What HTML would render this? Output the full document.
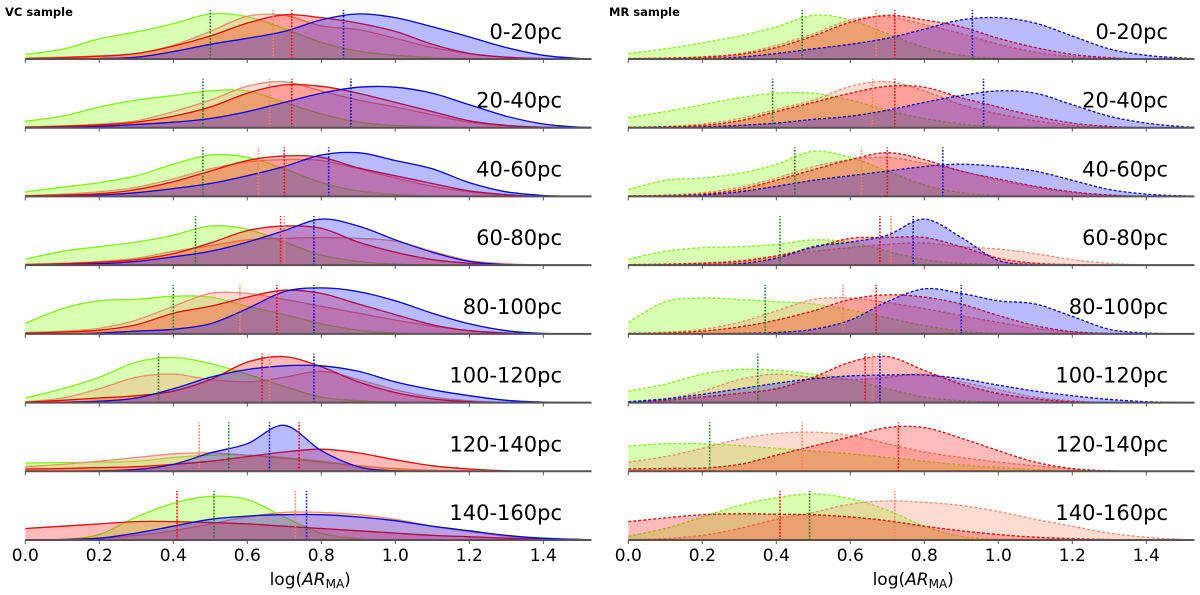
<!DOCTYPE html>
<html><head><meta charset="utf-8">
<style>
html,body{margin:0;padding:0;background:#fff;}
svg{display:block;font-family:"DejaVu Sans","Liberation Sans",sans-serif;}
</style></head>
<body>
<svg id="chart" width="1200" height="595" viewBox="0 0 1200 595">
<text x="5" y="16" font-size="11.5" font-weight="bold">VC sample</text>
<text x="609" y="16" font-size="11.5" font-weight="bold">MR sample</text>
<g id="plots"></g>
</svg>
<script>
const rowLabels = ["0-20pc","20-40pc","40-60pc","60-80pc","80-100pc","100-120pc","120-140pc","140-160pc"];
const xGrid = [0,0.1,0.2,0.3,0.4,0.5,0.6,0.7,0.8,0.9,1.0,1.1,1.2,1.3,1.4,1.5];
const tickValues = [0,0.2,0.4,0.6,0.8,1.0,1.2,1.4];
const tickLabels = ["0.0","0.2","0.4","0.6","0.8","1.0","1.2","1.4"];
const seriesNames = ["green","orange","red","blue"];

// VC sample densities (per row, per series)
const vcGreen = [
 [.10,.21,.44,.59,.77,.98,.92,.66,.36,.17,.08,.03,.01,0,0,0],
 [.14,.25,.45,.6,.7,.8,.8,.55,.3,.12,.05,.02,0,0,0,0],
 [.1,.2,.3,.45,.7,.9,.85,.6,.3,.12,.04,.01,0,0,0,0],
 [.13,.3,.4,.5,.65,.85,.78,.5,.22,.08,.02,0,0,0,0,0],
 [.23,.55,.72,.75,.82,.8,.6,.42,.22,.08,.02,0,0,0,0,0],
 [.1,.3,.55,.88,.98,.85,.62,.35,.12,.04,.01,0,0,0,0,0],
 [.18,.19,.2,.22,.3,.35,.35,.3,.22,.12,.05,.02,0,0,0,0],
 [0,.01,.12,.5,.8,.95,.88,.5,.15,.03,0,0,0,0,0,0]];
const vcOrange = [
 [.02,.04,.07,.12,.3,.6,.93,.95,.72,.64,.45,.25,.12,.04,.01,0],
 [.02,.04,.08,.15,.35,.6,.9,1.0,.8,.6,.45,.28,.12,.04,.01,0],
 [.02,.05,.1,.2,.38,.6,.75,.8,.78,.6,.4,.22,.1,.03,0,0],
 [.02,.04,.08,.15,.3,.42,.55,.58,.6,.58,.52,.3,.1,.03,0,0],
 [.03,.06,.12,.3,.6,.88,.88,.75,.6,.45,.3,.17,.07,.02,0,0],
 [.02,.1,.3,.55,.62,.5,.45,.55,.68,.5,.28,.12,.04,0,0,0],
 [.1,.15,.22,.3,.38,.4,.35,.28,.2,.12,.06,.02,0,0,0,0],
 [0,.01,.04,.1,.2,.35,.5,.6,.6,.55,.45,.3,.18,.08,.03,.01]];
const vcRed = [
 [.01,.03,.06,.12,.28,.5,.78,.96,.9,.78,.6,.32,.12,.04,.01,0],
 [.01,.03,.06,.12,.25,.45,.75,.93,.9,.75,.55,.35,.15,.05,.01,0],
 [.01,.03,.06,.15,.32,.55,.78,.88,.85,.62,.45,.28,.12,.04,0,0],
 [.01,.03,.06,.12,.25,.48,.75,.85,.8,.5,.28,.12,.04,0,0,0],
 [.02,.04,.08,.2,.45,.6,.8,.95,.88,.65,.42,.2,.07,.02,0,0],
 [.01,.05,.1,.15,.25,.5,.88,1.0,.78,.45,.22,.08,.02,0,0,0],
 [.05,.06,.08,.1,.15,.22,.32,.42,.48,.4,.25,.12,.05,.01,0,0],
 [.25,.3,.35,.4,.4,.38,.35,.3,.25,.2,.15,.1,.07,.04,.02,.01]];
const vcBlue = [
 [0,0,.01,.04,.16,.32,.45,.6,.85,.98,.9,.7,.48,.25,.08,.01],
 [0,.01,.03,.07,.12,.2,.35,.55,.75,.88,.88,.75,.5,.25,.08,.01],
 [0,.01,.03,.08,.17,.28,.45,.65,.9,.95,.78,.6,.3,.1,.02,0],
 [0,.01,.03,.08,.18,.3,.5,.75,1.0,.85,.55,.28,.08,.01,0,0],
 [0,0,.02,.06,.1,.22,.55,.92,1.0,.92,.72,.45,.22,.07,.01,0],
 [0,.01,.03,.1,.3,.55,.72,.8,.8,.68,.45,.28,.15,.05,.01,0],
 [0,0,.01,.04,.15,.4,.6,1.0,.45,.1,.01,0,0,0,0,0],
 [0,.01,.04,.15,.3,.45,.52,.55,.55,.5,.42,.3,.2,.1,.04,.01]];
const vcMedGreen = [.50,.48,.48,.46,.40,.36,.55,.51];
const vcMedOrange = [.67,.66,.63,.70,.58,.66,.47,.73];
const vcMedRed = [.72,.72,.70,.69,.68,.64,.74,.41];
const vcMedBlue = [.86,.88,.82,.78,.78,.78,.66,.76];

// MR sample densities
const mrGreen = [
 [.12,.22,.35,.5,.7,.95,.85,.55,.25,.08,.02,0,0,0,0,0],
 [.22,.35,.5,.65,.75,.75,.6,.38,.2,.08,.02,0,0,0,0,0],
 [.15,.35,.4,.5,.7,.98,.85,.55,.25,.08,.02,0,0,0,0,0],
 [.13,.3,.38,.4,.45,.55,.5,.3,.12,.04,.01,0,0,0,0,0],
 [.25,.7,.78,.75,.7,.65,.52,.35,.18,.06,.01,0,0,0,0,0],
 [.25,.4,.62,.72,.7,.62,.5,.3,.12,.04,.01,0,0,0,0,0],
 [.55,.6,.6,.56,.5,.44,.38,.3,.22,.14,.08,.04,.01,0,0,0],
 [.08,.25,.5,.75,.92,1.0,.9,.65,.3,.08,.01,0,0,0,0,0]];
const mrOrange = [
 [.01,.02,.05,.12,.3,.55,.85,.92,.75,.55,.32,.15,.05,.01,0,0],
 [.01,.03,.08,.2,.4,.6,.9,1.0,.8,.5,.3,.15,.05,0,0,0],
 [.01,.03,.08,.2,.4,.65,.8,.85,.72,.55,.35,.2,.08,.02,0,0],
 [.01,.02,.05,.1,.2,.3,.38,.45,.48,.4,.35,.25,.12,.04,0,0],
 [.01,.04,.1,.25,.5,.75,.78,.68,.55,.4,.25,.12,.04,.01,0,0],
 [.02,.08,.25,.5,.62,.55,.5,.55,.62,.45,.28,.12,.04,0,0,0],
 [.2,.32,.5,.7,.82,.85,.78,.6,.42,.3,.2,.12,.05,.01,0,0],
 [.01,.03,.1,.25,.45,.6,.78,.85,.82,.75,.62,.45,.3,.15,.06,.01]];
const mrRed = [
 [.01,.02,.04,.1,.25,.5,.8,.95,.85,.7,.45,.25,.1,.03,0,0],
 [.01,.02,.05,.15,.35,.55,.75,.9,.88,.65,.45,.25,.1,.03,0,0],
 [.01,.02,.05,.15,.35,.58,.8,.95,.8,.55,.38,.22,.1,.03,0,0],
 [.01,.02,.04,.08,.2,.38,.58,.6,.6,.4,.15,.04,.01,0,0,0],
 [.01,.02,.06,.15,.3,.5,.75,.85,.8,.65,.4,.18,.05,.01,0,0],
 [.01,.05,.12,.2,.3,.55,.88,1.0,.7,.4,.2,.08,.02,0,0,0],
 [.05,.06,.07,.15,.35,.55,.75,.95,.95,.72,.45,.2,.06,.01,0,0],
 [.4,.48,.55,.57,.56,.55,.5,.42,.3,.2,.12,.06,.03,.01,0,0]];
const mrBlue = [
 [0,0,.01,.04,.12,.22,.32,.45,.65,.85,.9,.78,.5,.22,.08,.02],
 [0,.01,.02,.05,.1,.18,.25,.38,.55,.7,.8,.75,.5,.25,.1,.02],
 [0,.01,.03,.1,.22,.35,.45,.55,.65,.7,.65,.55,.35,.15,.05,.01],
 [0,0,.01,.03,.15,.4,.5,.65,1.0,.6,.1,.01,0,0,0,0],
 [0,0,0,.01,.03,.1,.3,.7,.98,.88,.72,.65,.38,.1,.02,0],
 [.02,.08,.18,.3,.42,.52,.58,.6,.6,.52,.38,.25,.15,.07,.02,0],
 null,
 null];
const mrMedGreen = [.47,.39,.45,.41,.37,.35,.22,.49];
const mrMedOrange = [.67,.66,.63,.71,.58,.66,.47,.72];
const mrMedRed = [.72,.72,.70,.68,.67,.64,.73,.41];
const mrMedBlue = [.93,.96,.85,.77,.90,.68,null,null];

const NS = "http://www.w3.org/2000/svg";
const baselines = [59,127.7,196.4,265.1,333.9,402.6,471.3,540];
const unitH = 46;
const xMax = 1.53;
const colors = {
  green:{line:"#7cfc00",fill:"rgba(127,255,0,0.3)",med:"#1a7a1a"},
  orange:{line:"#fa8a6a",fill:"rgba(255,140,105,0.3)",med:"#fa8060"},
  red:{line:"#ff0000",fill:"rgba(255,0,0,0.27)",med:"#ff0000"},
  blue:{line:"#0000ff",fill:"rgba(0,0,255,0.27)",med:"#0000ff"}
};
const panels = [
  {key:"vc", x0:25.3, dashed:false, data:[vcGreen,vcOrange,vcRed,vcBlue], med:[vcMedGreen,vcMedOrange,vcMedRed,vcMedBlue], labelX:562},
  {key:"mr", x0:628.3, dashed:true, data:[mrGreen,mrOrange,mrRed,mrBlue], med:[mrMedGreen,mrMedOrange,mrMedRed,mrMedBlue], labelX:1168}
];
const pxPerUnit = 370;
const root = document.getElementById("plots");

function mk(tag, attrs){const e=document.createElementNS(NS,tag);for(const k in attrs)e.setAttribute(k,attrs[k]);return e;}

function splinePath(pts){
  let d = "M"+pts[0][0].toFixed(1)+","+pts[0][1].toFixed(1);
  for(let i=0;i<pts.length-1;i++){
    const p0=pts[Math.max(0,i-1)],p1=pts[i],p2=pts[i+1],p3=pts[Math.min(pts.length-1,i+2)];
    let c1y=p1[1]+(p2[1]-p0[1])/6, c2y=p2[1]-(p3[1]-p1[1])/6;
    const bl=Math.max(p1[1],p2[1]);
    c1y=Math.min(c1y,bl); c2y=Math.min(c2y,bl);
    const c1x=p1[0]+(p2[0]-p0[0])/6, c2x=p2[0]-(p3[0]-p1[0])/6;
    d+=" C"+c1x.toFixed(1)+","+c1y.toFixed(1)+" "+c2x.toFixed(1)+","+c2y.toFixed(1)+" "+p2[0].toFixed(1)+","+p2[1].toFixed(1);
  }
  return d;
}

panels.forEach(p=>{
  const xs = v => p.x0 + v*pxPerUnit;
  const xEnd = xs(xMax);
  const g = mk("g",{});
  
  
  root.appendChild(g);
  rowLabels.forEach((lab,r)=>{
    const by = baselines[r];
    const ys = d => by - d*unitH;
    const rg = mk("g",{});
    
    
    g.appendChild(rg);
    seriesNames.forEach((s,si)=>{
      const arr = p.data[si][r];
      if(!arr) return;
      const pts = xGrid.map((xv,i)=>[xs(xv), ys(arr[i])]);
      pts.push([xEnd, ys(arr[arr.length-1]*0.5)]);
      const line = splinePath(pts);
      const area = mk("path",{d: line+" L"+xEnd.toFixed(1)+","+by+" L"+xs(0).toFixed(1)+","+by+" Z", fill:colors[s].fill, stroke:"none"});
      
      
      rg.appendChild(area);
      const ln = mk("path",{d:line, fill:"none", stroke:colors[s].line, "stroke-width":"1.3"});
      if(p.dashed) ln.setAttribute("stroke-dasharray","3,2");
      
      
      rg.appendChild(ln);
    });
    seriesNames.forEach((s,si)=>{
      const m = p.med[si][r];
      if(m===null||m===undefined) return;
      const ml = mk("line",{x1:xs(m),x2:xs(m),y1:by,y2:by-49,stroke:colors[s].med,"stroke-width":"1.6","stroke-dasharray":"1.6,1.6"});
      
      
      rg.appendChild(ml);
    });
    const base = mk("line",{x1:xs(0),x2:xEnd,y1:by,y2:by,stroke:"#555","stroke-width":"2"});
    
    
    rg.appendChild(base);
    tickValues.forEach(tv=>{
      const t = mk("line",{x1:xs(tv),x2:xs(tv),y1:by,y2:by+4,stroke:"#555","stroke-width":"1"});
      
      
      rg.appendChild(t);
    });
    const tl = mk("text",{x:p.labelX,y:by-20,"font-size":"21","text-anchor":"end",fill:"#000"});
    tl.textContent = lab;
    
    
    rg.appendChild(tl);
  });
  tickLabels.forEach((tl,i)=>{
    const t = mk("text",{x:xs(tickValues[i]),y:561,"font-size":"17","text-anchor":"middle"});
    t.textContent = tl;
    
    
    g.appendChild(t);
  });
  const xl = mk("text",{x:xs(0.77),y:585,"font-size":"17","text-anchor":"middle"});
  xl.innerHTML = 'log(<tspan font-style="italic">AR</tspan><tspan font-size="12" dy="3">MA</tspan><tspan dy="-3">)</tspan>';
  
  
  g.appendChild(xl);
});
</script>
</body></html>
